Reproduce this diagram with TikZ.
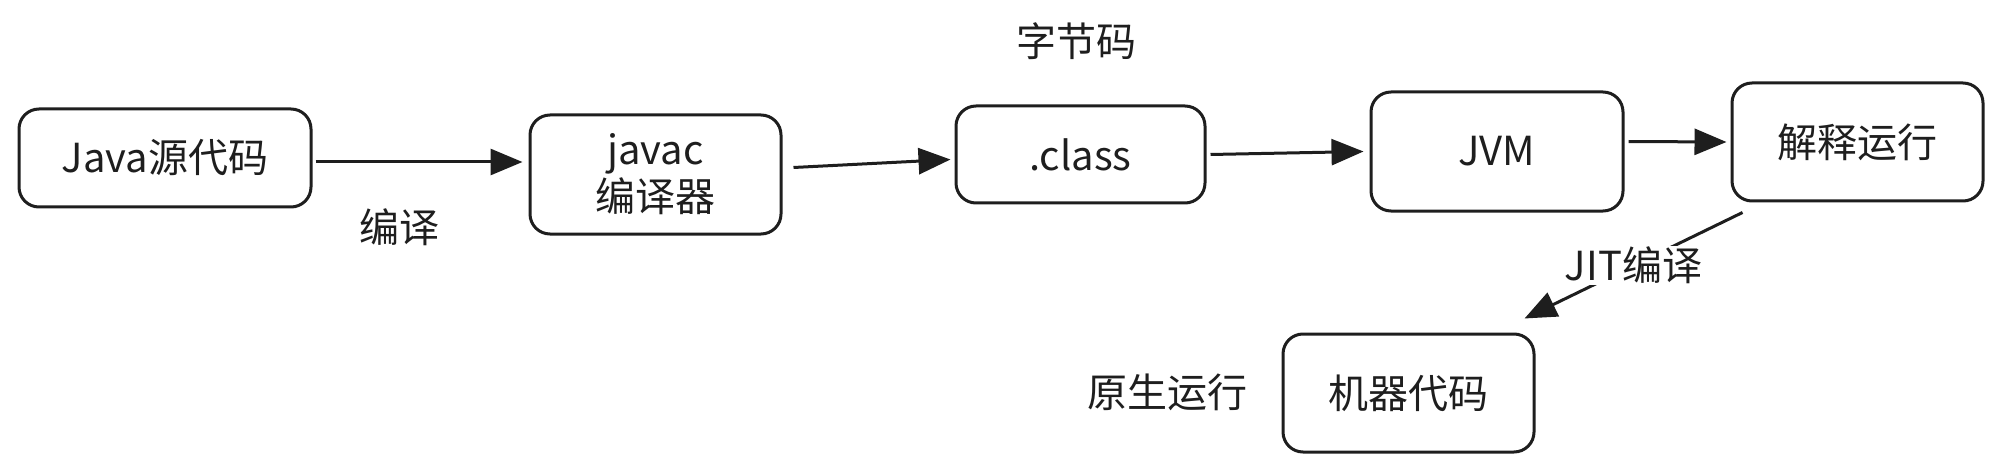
\documentclass[tikz,border=0pt]{standalone}
\usepackage{fontspec}
\setmainfont{Noto Sans CJK SC}
\usetikzlibrary{arrows.meta}
\definecolor{ink}{HTML}{1E1E1E}
\tikzset{
  box/.style={draw=ink, line width=3pt, rounded corners=20pt, minimum width=#1, text=ink, font=\fontsize{40}{47}\selectfont, align=center, inner sep=0pt},
  lbl/.style={text=ink, font=\fontsize{40}{47}\selectfont, inner sep=2pt},
  conn/.style={draw=ink, line width=3pt, -{Triangle[length=32pt,width=26pt]}},
}
\begin{document}
\begin{tikzpicture}[x=1pt,y=-1pt]
\useasboundingbox (0,0) rectangle (2004,473);
\node[box=292pt, minimum height=98pt] (java) at (165,158) {Java源代码};
\node[box=251pt, minimum height=119pt] (javac) at (655.5,174.5) {javac\\编译器};
\node[box=249pt, minimum height=97pt] (class) at (1080.5,154.5) {.class};
\node[box=252pt, minimum height=119pt] (jvm) at (1497,151.5) {JVM};
\node[box=251pt, minimum height=118pt] (interp) at (1857.5,142) {解释运行};
\node[box=251pt, minimum height=118pt] (machine) at (1408.5,393) {机器代码};

\node[lbl] (bianyi) at (399,227) {编译};
\node[lbl] (zijiema) at (1076,41) {字节码};
\node[lbl] (yuansheng) at (1167,392) {原生运行};

\draw[conn] ([xshift=3pt,yshift=-4pt]java.east) -- ([xshift=-6pt,yshift=-4pt]java.east -| javac.west);
\draw[conn] ([xshift=11pt,yshift=7pt]javac.east) -- ([xshift=-4pt,yshift=-5pt]class.west);
\draw[conn] ([xshift=4pt]class.east) -- ([xshift=-6pt]jvm.west);
\draw[conn] ([xshift=4pt,yshift=10pt]jvm.east) -- ([xshift=-4pt]interp.west);
\draw[conn] ([xshift=12pt,yshift=-10pt]interp.south west) -- node[lbl, fill=white, inner sep=1pt] (jit) {JIT编译} ([xshift=-11pt,yshift=14pt]machine.north east);
\end{tikzpicture}
\end{document}
